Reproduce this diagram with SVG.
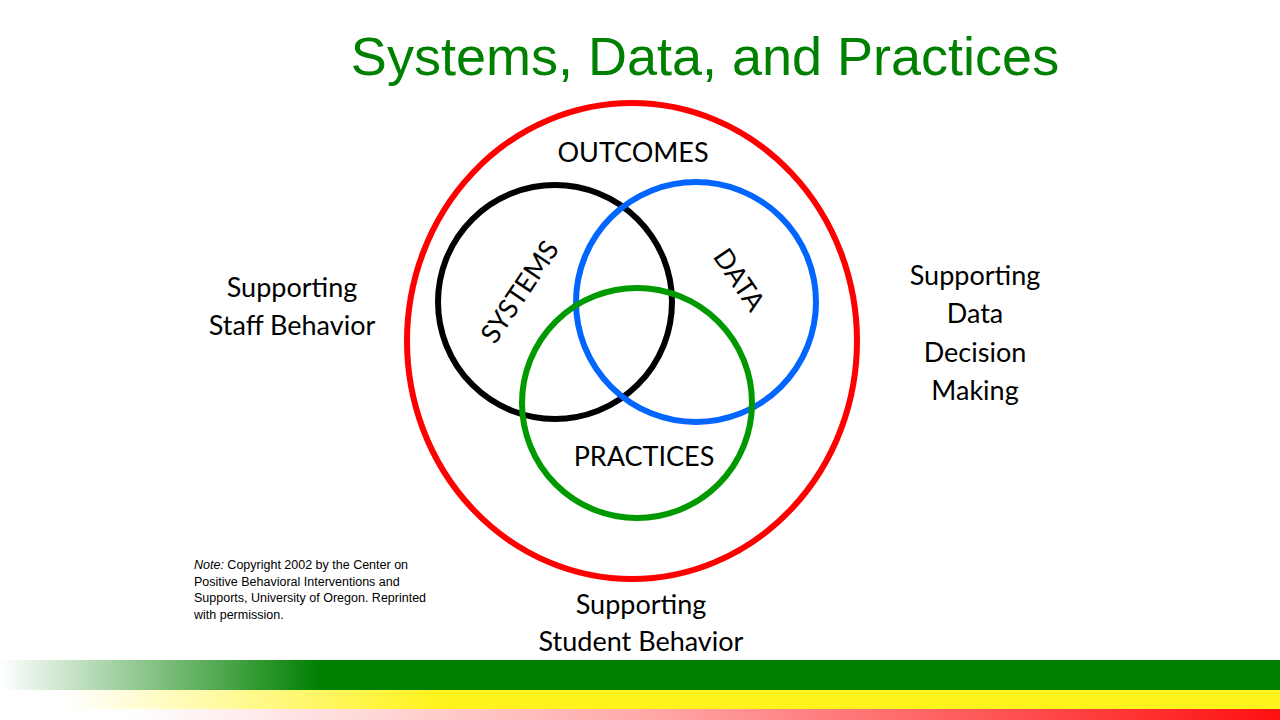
<svg xmlns="http://www.w3.org/2000/svg" width="1280" height="720" viewBox="0 0 1280 720">
<style>
.t{font-family:Lato,"Open Sans",sans-serif;font-size:27px;fill:#000;text-anchor:middle}
.c{fill:none;stroke-width:6}
.n{font-family:"Liberation Sans",Arial,sans-serif;font-size:12.5px;fill:#000}
</style>
<defs>
<linearGradient id="gg" x1="0" x2="1280" gradientUnits="userSpaceOnUse"><stop offset="0" stop-color="#fff"/><stop offset="0.25" stop-color="#008000"/><stop offset="1" stop-color="#008000"/></linearGradient>
<linearGradient id="gy" x1="0" x2="1280" gradientUnits="userSpaceOnUse"><stop offset="0.05" stop-color="#fff"/><stop offset="0.34" stop-color="#fff31e"/><stop offset="1" stop-color="#fff31e"/></linearGradient>
<linearGradient id="gr" x1="0" x2="1280" gradientUnits="userSpaceOnUse"><stop offset="0.1" stop-color="#fff"/><stop offset="0.5" stop-color="#ffaaaa"/><stop offset="1" stop-color="#ff1010"/></linearGradient>
</defs>
<rect width="1280" height="720" fill="#fff"/>
<text x="705" y="75" font-family="Liberation Sans,Arial,sans-serif" font-size="54" fill="#008000" text-anchor="middle">Systems, Data, and Practices</text>
<g id="outer"><ellipse class="c" cx="632" cy="341" rx="225" ry="238" stroke="#ff0000"/></g>
<g id="systems"><circle class="c" cx="555" cy="302" r="117" stroke="#000"/><text class="t" transform="translate(520,292) rotate(-56)" dy="9">SYSTEMS</text></g>
<g id="data"><circle class="c" cx="696" cy="302" r="120" stroke="#0066ff"/><text class="t" transform="translate(739,280) rotate(56)" dy="9">DATA</text></g>
<g id="practices"><circle class="c" cx="637" cy="403" r="115" stroke="#009900"/><text class="t" x="644" y="466">PRACTICES</text></g>
<text class="t" x="633" y="162">OUTCOMES</text>
<text class="t" x="292" y="297">Supporting</text>
<text class="t" x="292" y="335">Staff Behavior</text>
<text class="t" x="975" y="285">Supporting</text>
<text class="t" x="975" y="323">Data</text>
<text class="t" x="975" y="362">Decision</text>
<text class="t" x="975" y="400">Making</text>
<text class="t" x="641" y="614">Supporting</text>
<text class="t" x="641" y="651">Student Behavior</text>
<text class="n" x="194" y="569"><tspan font-style="italic">Note:</tspan> Copyright 2002 by the Center on</text>
<text class="n" x="194" y="586">Positive Behavioral Interventions and</text>
<text class="n" x="194" y="602">Supports, University of Oregon. Reprinted</text>
<text class="n" x="194" y="619">with permission.</text>
<rect x="0" y="660" width="1280" height="30" fill="url(#gg)"/>
<rect x="0" y="690" width="1280" height="19" fill="url(#gy)"/>
<rect x="0" y="709" width="1280" height="11" fill="url(#gr)"/>
</svg>
